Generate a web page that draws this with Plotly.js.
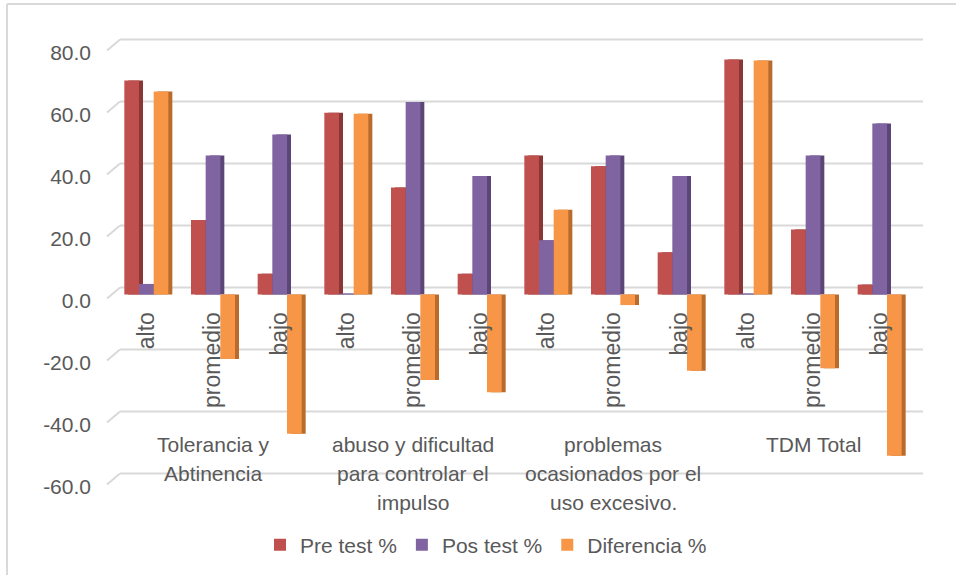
<!DOCTYPE html>
<html>
<head>
<meta charset="utf-8">
<script src="https://cdn.plot.ly/plotly-3.0.1.min.js"></script>
<style>html,body{margin:0;padding:0;background:#fff;}#chart{width:956px;height:575px;}</style>
</head>
<body>
<div id="chart"></div>
<script>
// ---- data ----
const groups = ["Tolerancia y<br>Abtinencia", "abuso y dificultad<br>para controlar el<br>impulso", "problemas<br>ocasionados por el<br>uso excesivo.", "TDM Total"];
const levels = ["alto", "promedio", "bajo"];
const seriesNames = ["Pre test %", "Pos test %", "Diferencia %"];
const preTest  = [69.0, 24.0, 6.7, 58.6, 34.5, 6.7, 44.8, 41.4, 13.6, 75.8, 21.0, 3.2];
const posTest  = [3.4, 44.8, 51.6, 0.3, 62.1, 38.2, 17.5, 44.8, 38.2, 0.3, 44.8, 55.2];
const diferencia = [65.5, -20.8, -44.9, 58.3, -27.6, -31.5, 27.3, -3.4, -24.6, 75.5, -23.8, -52.0];
const yTicks = [-60, -40, -20, 0, 20, 40, 60, 80];

// ---- layout constants ----
const W = 956, H = 575;
const M = {l: 113, r: 43, t: 31, b: 79};
const PW = W - M.l - M.r, PH = H - M.t - M.b;
const yRange = [-65, 85];
const font = "Liberation Sans, Arial, sans-serif";
const txt = "#595959";

const tickText = [];
groups.forEach(() => levels.forEach(l => tickText.push(l)));
const xIdx = tickText.map((_, i) => i);

const series = [preTest, posTest, diferencia];
const colors = ["#c0504d", "#8064a2", "#f79646"];
const sides = ["#8a3634", "#5b4677", "#b86b2c"];
const barW = 0.22;
const offsets = [-0.33, -0.11, 0.11];
const depth = 0.06;

const traces = [];
series.forEach((vals, k) => {
  traces.push({type: "bar", x: xIdx, y: vals, width: barW, offset: offsets[k] + depth,
    marker: {color: sides[k]}, showlegend: false, hoverinfo: "skip"});
  traces.push({type: "bar", name: seriesNames[k], x: xIdx, y: vals, width: barW, offset: offsets[k],
    marker: {color: colors[k]}});
});

// pixel -> paper helpers (for decoration only)
const px2paperX = p => (p - M.l) / PW;
const px2paperY = p => (H - M.b - p) / PH;

const shapes = [];
yTicks.forEach(v => {
  shapes.push({type: "line", layer: "below", xref: "paper", xsizemode: "pixel", xanchor: 0,
    x0: 7, x1: 810, yref: "y", ysizemode: "pixel", yanchor: v, y0: 7, y1: 7,
    line: {color: "#d9d9d9", width: 2}});
  shapes.push({type: "line", layer: "below", xref: "paper", xsizemode: "pixel", xanchor: 0,
    x0: -6, x1: 7, yref: "y", ysizemode: "pixel", yanchor: v, y0: -4, y1: 7,
    line: {color: "#d9d9d9", width: 2}});
});
// chart frame (top and left)
shapes.push({type: "line", xref: "paper", yref: "paper", x0: px2paperX(7), x1: px2paperX(956), y0: px2paperY(4), y1: px2paperY(4), line: {color: "#d9d9d9", width: 2}});
shapes.push({type: "line", xref: "paper", yref: "paper", x0: px2paperX(7), x1: px2paperX(7), y0: px2paperY(4), y1: px2paperY(575), line: {color: "#d9d9d9", width: 2}});

// group labels, one annotation per text line for Excel-like line spacing
const annotations = [];
groups.forEach((g, i) => {
  g.split("<br>").forEach((line, j) => {
    annotations.push({
      text: line, xref: "x", x: i * levels.length + (levels.length - 1) / 2,
      yref: "paper", y: px2paperY(444 + 29 * j), yanchor: "middle", xanchor: "center",
      showarrow: false, font: {family: font, size: 21, color: txt}
    });
  });
});

const layout = {
  width: W, height: H,
  margin: M,
  paper_bgcolor: "#fff", plot_bgcolor: "rgba(0,0,0,0)",
  barmode: "overlay",
  showlegend: true,
  font: {family: font, size: 21, color: txt},
  xaxis: {
    range: [-0.5, xIdx.length - 0.5],
    tickmode: "array", tickvals: xIdx, ticktext: tickText,
    tickangle: -90, tickfont: {family: font, size: 23, color: txt},
    showgrid: false, zeroline: false, showline: false, ticks: "",
    anchor: "free", position: (0 - yRange[0]) / (yRange[1] - yRange[0]),
    ticklabelstandoff: 12
  },
  yaxis: {
    range: yRange, tickmode: "array", tickvals: yTicks, ticktext: yTicks.map(v => v.toFixed(1)),
    tickfont: {family: font, size: 21, color: txt},
    showgrid: false, zeroline: false, showline: false, ticks: "",
    ticklabelstandoff: 21, ticklabelshift: 6
  },
  legend: {
    orientation: "h", xref: "container", yref: "container",
    x: 486 / W, xanchor: "center", y: 1 - 545 / H, yanchor: "middle",
    font: {family: font, size: 21, color: txt}, traceorder: "normal"
  },
  shapes: shapes,
  annotations: annotations
};

Plotly.newPlot("chart", traces, layout, {displayModeBar: false, staticPlot: true});
</script>
</body>
</html>
